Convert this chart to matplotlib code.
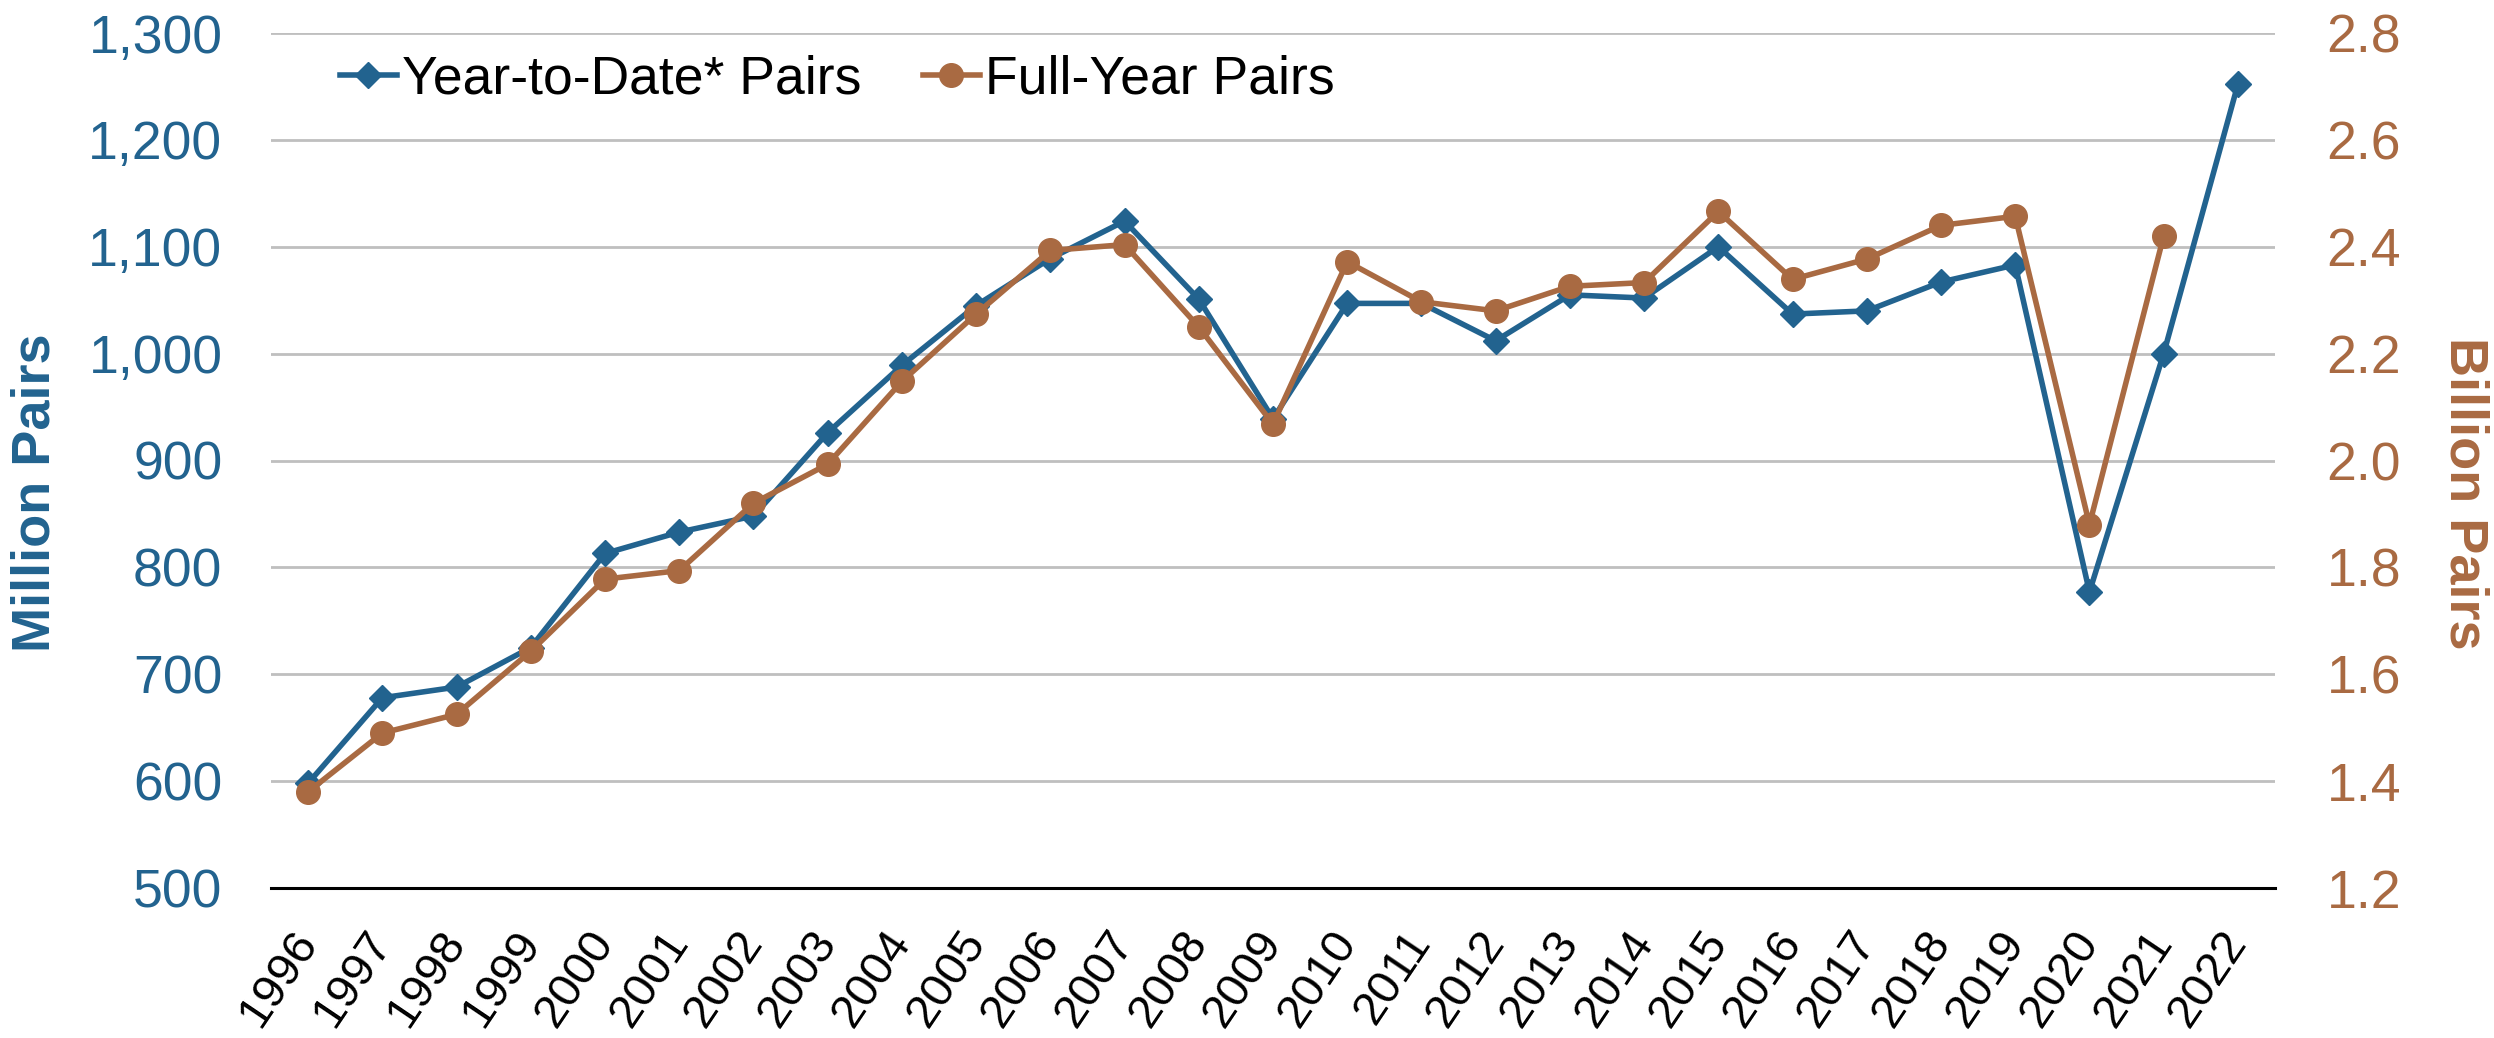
import numpy as np
import matplotlib
matplotlib.use('Agg')
import matplotlib.pyplot as plt

plt.rcParams['font.family'] = ['Liberation Sans', 'DejaVu Sans']

# data
years = [str(y) for y in range(1996, 2023)]
ytd_pairs = [598, 678, 688, 725, 813, 833, 848, 926, 989, 1045, 1089, 1124,
             1051, 939, 1047, 1047, 1012, 1055, 1052, 1100, 1037, 1040, 1067,
             1083, 777, 1000, 1252]                      # million pairs
full_year = [1.38, 1.49, 1.525, 1.643, 1.778, 1.794, 1.92, 1.993, 2.148,
             2.274, 2.393, 2.404, 2.25, 2.068, 2.372, 2.297, 2.28, 2.326,
             2.333, 2.466, 2.339, 2.377, 2.44, 2.457, 1.88, 2.42]  # billion pairs

left_ticks = [500, 600, 700, 800, 900, 1000, 1100, 1200, 1300]
right_ticks = [1.2, 1.4, 1.6, 1.8, 2.0, 2.2, 2.4, 2.6, 2.8]

BLUE = '#22638F'
BROWN = '#A96A42'
W, H = 2494, 1038

fig = plt.figure(figsize=(W / 100, H / 100), dpi=100)
ax = fig.add_axes([271 / W, 1 - 888 / H, (2275 - 271) / W, (888 - 33) / H])
ax2 = ax.twinx()

x = np.arange(len(years))
l1, = ax.plot(x, ytd_pairs, color=BLUE, lw=4, marker='D', ms=13,
              label='Year-to-Date* Pairs')
l2, = ax2.plot(x[:len(full_year)], full_year, color=BROWN, lw=4, marker='o',
               ms=17, label='Full-Year Pairs')

ax.set_xlim(-0.5, len(years) - 0.5)
ax.set_ylim(500, 1300)
ax2.set_ylim(1.2, 2.8)
ax.set_yticks(left_ticks)
ax.set_yticklabels(['{:,}'.format(v) for v in left_ticks])
ax2.set_yticks(right_ticks)
ax2.set_yticklabels(['{:.1f}'.format(v) for v in right_ticks])

ax.grid(axis='y', color='#BFBFBF', lw=2)
ax.set_axisbelow(True)
for a in (ax, ax2):
    for s in a.spines.values():
        s.set_visible(False)
ax.spines['bottom'].set_visible(True)
ax.spines['bottom'].set_color('black')
ax.spines['bottom'].set_linewidth(2.2)

ax.tick_params(axis='y', length=0, pad=35, labelsize=38.5, labelcolor=BLUE)
ax2.tick_params(axis='y', length=0, pad=37, labelsize=38.5, labelcolor=BROWN)
ax.set_xticks(x)
ax.set_xticklabels(years, rotation=56, ha='right', va='center',
                   rotation_mode='anchor')
ax.tick_params(axis='x', length=0, pad=34, labelsize=34)

fig.text(36 / W, 1 - 493 / H, 'Million Pairs', rotation=90, color=BLUE,
         fontsize=39, fontweight='bold', ha='center', va='center')
fig.text(2465 / W, 1 - 493 / H, 'Billion Pairs', rotation=270, color=BROWN,
         fontsize=39, fontweight='bold', ha='center', va='center')

fig.legend(handles=[l1, l2], loc='center left',
           bbox_to_anchor=(340 / W, 1 - 80 / H), ncol=2, frameon=False,
           fontsize=38.5, handlelength=1.06, handletextpad=0.1,
           columnspacing=1.15, borderpad=0, borderaxespad=0)

fig.savefig('out.png', dpi=100)
